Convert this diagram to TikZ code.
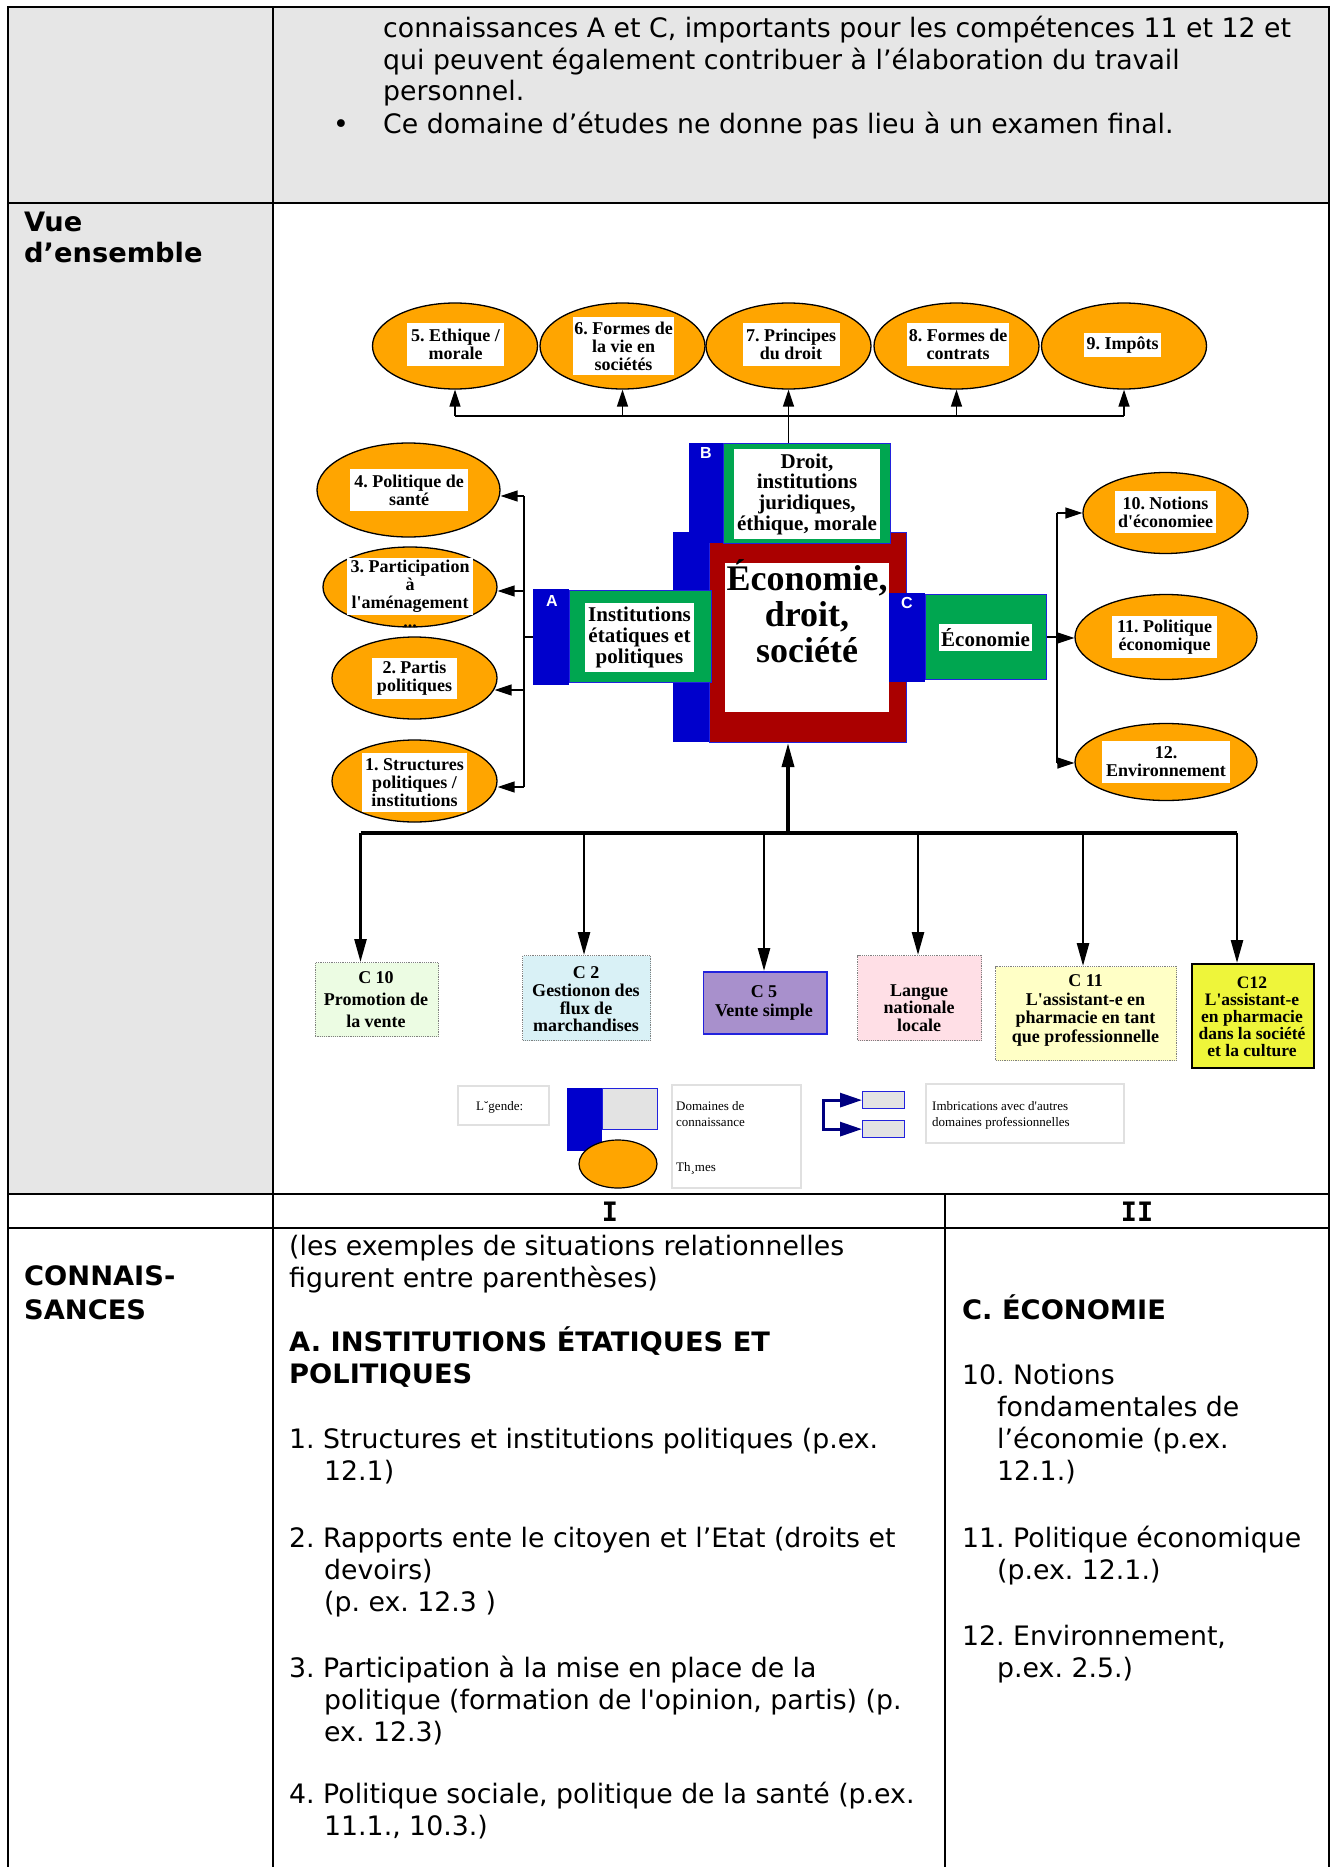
\documentclass[tikz,border=0pt]{standalone}
\usepackage{fontspec}
\setmainfont{DejaVu Sans}[BoldFeatures={FakeStretch=1.02}]
\newfontfamily\tms{Liberation Serif}
\newfontfamily\arl{Liberation Sans}
\newfontfamily\dmono{DejaVu Sans Mono}
\usetikzlibrary{shapes.geometric,arrows.meta,calc}
\definecolor{tgray}{HTML}{E6E6E6}
\definecolor{orng}{HTML}{FFA500}
\definecolor{dblue}{HTML}{0000CC}
\definecolor{oblue}{HTML}{2222DD}
\definecolor{dgreen}{HTML}{00A650}
\definecolor{dred}{HTML}{AA0000}
\definecolor{cten}{HTML}{ECFCE3}
\definecolor{ctwo}{HTML}{D9F1F6}
\definecolor{cfive}{HTML}{A890CC}
\definecolor{clang}{HTML}{FFDFE6}
\definecolor{celev}{HTML}{FFFFC6}
\definecolor{ctwel}{HTML}{EEF53A}
\definecolor{lgbord}{HTML}{E0E0E0}
\definecolor{lgfill}{HTML}{E3E3E3}
\definecolor{navy}{HTML}{000080}
\newcommand\apos{\textquotesingle}
\tikzset{
  tx/.style={anchor=base west, inner sep=0pt, font={\fontsize{26.75}{32}\selectfont}},
  txb/.style={anchor=base west, inner sep=0pt, font={\fontsize{26.75}{32}\selectfont\bfseries}},
  grid/.style={line width=2.2pt, black, line cap=rect},
  ell/.style={ellipse, draw=black, line width=1.3pt, fill=orng, inner sep=0pt},
  etx/.style={fill=white, inner sep=0pt, align=center, font={\tms\bfseries\fontsize{18}{18}\selectfont}},
  dtx/.style={fill=white, inner sep=0pt, align=center, font={\tms\bfseries\fontsize{21}{20.7}\selectfont}},
  blk/.style={rectangle, anchor=north west, inner sep=0pt},
  lbl/.style={inner sep=0pt, text=white, font={\arl\bfseries\fontsize{16}{16}\selectfont}},
  conn/.style={line width=1.5pt, black},
  arr/.style={conn, -{Triangle[length=17pt,width=11pt]}},
  bus/.style={line width=3.5pt, black},
  darr/.style={line width=2.6pt, black, -{Triangle[length=23pt,width=12pt]}},
  uarr/.style={line width=3.5pt, black, -{Triangle[length=24pt,width=12pt]}},
  cbox/.style={rectangle, anchor=north west, inner sep=0pt, draw=gray, densely dotted, line width=1.2pt},
  btx/.style={inner sep=0pt, align=center},
  lgbox/.style={rectangle, anchor=north west, inner sep=0pt, draw=lgbord, line width=1.5pt, fill=white},
  lgtx/.style={anchor=base west, inner sep=0pt, font={\tms\fontsize{13}{16}\selectfont}},
}
\begin{document}
\frenchspacing
\begin{tikzpicture}[x=1pt,y=-1pt]
\useasboundingbox (0,0) rectangle (1333,1867);
\fill[white] (0,0) rectangle (1333,1867);
% ---------------- table ----------------
\fill[tgray] (8,7) rectangle (1329,203);
\fill[tgray] (8,203) rectangle (273,1194);
\draw[grid] (8,7) -- (1329,7);
\draw[grid] (8,203) -- (1329,203);
\draw[grid] (8,1194) -- (1329,1194);
\draw[grid] (8,1228) -- (1329,1228);
\draw[grid] (8,7) -- (8,1867);
\draw[grid] (273,7) -- (273,1867);
\draw[grid] (1329,7) -- (1329,1867);
\draw[grid] (945,1194) -- (945,1867);

\node[tx] (p1) at (383,37.5) {connaissances A et C, importants pour les compétences 11 et 12 et};
\node[tx] (p2) at (383,69.5) {qui peuvent également contribuer à l’élaboration du travail};
\node[tx] (p3) at (383,100.5) {personnel.};
\node[tx] (p4b) at (333,133.5) {•};
\node[tx] (p4) at (383,133.5) {Ce domaine d’études ne donne pas lieu à un examen final.};

\node[txb] (vue1) at (24,232) {Vue};
\node[txb] (vue2) at (24,263) {d’ensemble};

\node[inner sep=0pt, font={\dmono\bfseries\fontsize{26.75}{32}\selectfont}] (hI) at (610,1212) {I};
\node[inner sep=0pt, font={\dmono\bfseries\fontsize{26.75}{32}\selectfont}] (hII) at (1137,1212) {II};

\node[txb] (k1) at (24,1285) {CONNAIS-};
\node[txb] (k2) at (24,1319) {SANCES};

\node[tx] (a1) at (289,1255) {(les exemples de situations relationnelles};
\node[tx] (a2) at (289,1287) {figurent entre parenthèses)};
\node[txb] (a3) at (289,1351) {A. INSTITUTIONS ÉTATIQUES ET};
\node[txb] (a4) at (289,1383) {POLITIQUES};
\node[tx] (a5) at (289,1448) {1. Structures et institutions politiques (p.ex.};
\node[tx] (a6) at (324,1480) {12.1)};
\node[tx] (a7) at (289,1547) {2. Rapports ente le citoyen et l’Etat (droits et};
\node[tx] (a8) at (324,1579) {devoirs)};
\node[tx] (a9) at (324,1611) {(p. ex. 12.3 )};
\node[tx] (a10) at (289,1677) {3. Participation à la mise en place de la};
\node[tx] (a11) at (324,1709) {politique (formation de l\apos opinion, partis) (p.};
\node[tx] (a12) at (324,1741) {ex. 12.3)};
\node[tx] (a13) at (289,1803) {4. Politique sociale, politique de la santé (p.ex.};
\node[tx] (a14) at (324,1835) {11.1., 10.3.)};

\node[txb] (b1) at (962,1319) {C. ÉCONOMIE};
\node[tx] (b2) at (962,1384) {10. Notions};
\node[tx] (b3) at (997,1416) {fondamentales de};
\node[tx] (b4) at (997,1448) {l’économie (p.ex.};
\node[tx] (b5) at (997,1480) {12.1.)};
\node[tx] (b6) at (962,1547) {11. Politique économique};
\node[tx] (b7) at (997,1579) {(p.ex. 12.1.)};
\node[tx] (b8) at (962,1645) {12. Environnement,};
\node[tx] (b9) at (997,1677) {p.ex. 2.5.)};

% ---------------- diagram: domain blocks ----------------
\node[blk, fill=dblue, minimum width=36pt, minimum height=210pt] (mainbar) at (673,532) {};
\node[blk, fill=dred, draw=oblue, line width=1pt, minimum width=197pt, minimum height=210pt] (mainbox) at (709,532) {};
\node[blk, fill=white, minimum width=164pt, minimum height=149pt] (mainwhite) at (725,563) {};
\node[anchor=north, inner sep=0pt, align=center, font={\tms\bfseries\fontsize{36}{36}\selectfont}] (maintxt) at (807,559) {Économie,\\droit,\\société};

\node[blk, fill=dblue, minimum width=34pt, minimum height=100pt] (Bbar) at (689,443) {};
\node[blk, fill=dgreen, draw=oblue, line width=1pt, minimum width=167pt, minimum height=100pt] (Bbox) at (723,443) {};
\node[dtx, minimum width=146pt, minimum height=90pt] (Btx) at (807,494) {Droit,\\institutions\\juridiques,\\éthique, morale};
\node[lbl] (Blab) at (706,453) {B};

\node[blk, fill=dblue, minimum width=36pt, minimum height=96pt] (Abar) at (533,589) {};
\node[blk, fill=dgreen, draw=oblue, line width=1pt, minimum width=142pt, minimum height=92pt] (Abox) at (569,590) {};
\node[dtx, minimum width=109pt, minimum height=69pt] (Atx) at (639.5,637.5) {Institutions\\étatiques et\\politiques};
\node[lbl] (Alab) at (552,601) {A};

\node[blk, fill=dblue, minimum width=36pt, minimum height=89pt] (Cbar) at (889,593) {};
\node[blk, fill=dgreen, draw=oblue, line width=1pt, minimum width=121pt, minimum height=85pt] (Cbox) at (925,594) {};
\node[dtx, minimum width=93pt, minimum height=27pt] (Ctx) at (985.5,637.5) {Économie};
\node[lbl] (Clab) at (907,603) {C};

% ---------------- top themes ----------------
\node[ell, minimum width=165pt, minimum height=86pt] (e5) at (455,346) {};
\node[ell, minimum width=165pt, minimum height=86pt] (e6) at (622.5,346) {};
\node[ell, minimum width=165pt, minimum height=86pt] (e7) at (788.5,346) {};
\node[ell, minimum width=165pt, minimum height=86pt] (e8) at (956.5,346) {};
\node[ell, minimum width=165pt, minimum height=86pt] (e9) at (1124,346) {};
\node[etx, minimum width=97pt, minimum height=43pt] (t5) at (455.5,344.5) {5. Ethique /\\morale};
\node[etx, minimum width=101pt, minimum height=58pt] (t6) at (623.5,346) {6. Formes de\\la vie en\\sociétés};
\node[etx, minimum width=97pt, minimum height=43pt] (t7) at (791,344.5) {7. Principes\\du droit};
\node[etx, minimum width=102pt, minimum height=43pt] (t8) at (958,344.5) {8. Formes de\\contrats};
\node[etx, minimum width=77pt, minimum height=24pt] (t9) at (1122.5,345) {9. Impôts};

\coordinate (tb) at (788.5,416);
\draw[conn] (Bbox.north -| tb) -- (tb);
\draw[conn] (e5.south |- tb) -- (e9.south |- tb);
\foreach \e in {e5,e6,e7,e8,e9} { \draw[arr] (\e.south |- tb) -- (\e.south); }

% ---------------- left themes ----------------
\node[ell, minimum width=183pt, minimum height=94pt] (e4) at (408.5,490) {};
\node[ell, minimum width=174pt, minimum height=80pt] (e3) at (410,587) {};
\node[ell, minimum width=165pt, minimum height=82pt] (e2) at (414.5,678) {};
\node[ell, minimum width=165pt, minimum height=82pt] (e1) at (414.5,781) {};
\node[etx, minimum width=118pt, minimum height=42pt] (t4) at (409,490) {4. Politique de\\santé};
\node[etx, minimum width=126pt, minimum height=57pt] (t3) at (410,586.5) {3. Participation\\à\\l\apos aménagement};
\node[anchor=base, inner sep=0pt, font={\tms\bfseries\fontsize{18}{18}\selectfont}] (t3b) at (410,627) {...};
\node[etx, minimum width=85pt, minimum height=41pt] (t2) at (414.5,678.5) {2. Partis\\politiques};
\node[etx, minimum width=105pt, minimum height=59pt] (t1) at (414.5,782.5) {1. Structures\\politiques /\\institutions};

\coordinate (l4) at (524,496);
\coordinate (l3) at (524,591);
\coordinate (l2) at (524,690);
\coordinate (l1) at (524,787);
\draw[conn] (l4) -- (l1);
\draw[conn] (Abar.west) -- (Abar.west -| l4);
\draw[arr] (l4) -- (l4 -| e4.east);
\draw[arr] (l3) -- (l3 -| e3.east);
\draw[arr] (l2) -- ($(l2 -| e2.east)+(-3,0)$);
\draw[arr] (l1) -- (l1 -| e1.east);

% ---------------- right themes ----------------
\node[ell, minimum width=165pt, minimum height=81pt] (e10) at (1165.5,513) {};
\node[ell, minimum width=182pt, minimum height=85pt] (e11) at (1166,637) {};
\node[ell, minimum width=182pt, minimum height=77pt] (e12) at (1166,762) {};
\node[etx, minimum width=101pt, minimum height=42pt] (t10) at (1165.5,512) {10. Notions\\d\apos économiee};
\node[etx, minimum width=105pt, minimum height=42pt] (t11) at (1164.5,637) {11. Politique\\économique};
\node[etx, minimum width=128pt, minimum height=42pt] (t12) at (1166,762) {12.\\Environnement};

\coordinate (r10) at (1057,513);
\coordinate (r11) at (1057,638);
\coordinate (r12) at (1057,763);
\draw[conn] (r10) -- (r12);
\draw[conn] (Cbox.east) -- (Cbox.east -| r10);
\draw[arr] (r10) -- (r10 -| e10.west);
\draw[arr] (r11) -- (r11 -| e11.west);
\draw[arr] (r12) -- (r12 -| e12.west);

% ---------------- bottom: other domains ----------------
\node[cbox, fill=cten, minimum width=123.5pt, minimum height=74pt] (c10box) at (314.5,962) {};
\node[cbox, fill=ctwo, minimum width=128pt, minimum height=85pt] (c2box) at (522,955) {};
\node[blk, fill=cfive, draw=oblue, line width=1.5pt, minimum width=123.4pt, minimum height=62pt] (c5box) at (702.6,971) {};
\node[cbox, fill=clang, minimum width=124pt, minimum height=85pt] (lnbox) at (857,955) {};
\node[cbox, fill=celev, minimum width=181pt, minimum height=94pt] (c11box) at (995,966) {};
\node[blk, fill=ctwel, draw=black, line width=1.5pt, minimum width=122pt, minimum height=104pt] (c12box) at (1191,963) {};

\node[btx, font={\tms\bfseries\fontsize{18}{22}\selectfont}] (c10) at (376,999.5) {C 10\\Promotion de\\la vente};
\node[btx, font={\tms\bfseries\fontsize{18}{17.7}\selectfont}] (c2) at (586,999.5) {C 2\\Gestionon des\\flux de\\marchandises};
\node[btx, font={\tms\bfseries\fontsize{18}{19.5}\selectfont}] (c5) at (764,1003) {C 5\\Vente simple};
\node[btx, font={\tms\bfseries\fontsize{18}{17.5}\selectfont}] (ln) at (919,1008) {Langue\\nationale\\locale};
\node[btx, font={\tms\bfseries\fontsize{18}{18.5}\selectfont}] (c11) at (1085.5,1010.5) {C 11\\L\apos assistant-e en\\pharmacie en tant\\que professionnelle};
\node[btx, font={\tms\bfseries\fontsize{17.5}{17}\selectfont}] (c12) at (1252,1017) {C12\\L\apos assistant-e\\en pharmacie\\dans la société\\et la culture};

\coordinate (mb) at (788,833);
\coordinate (d1) at (360.5,833);
\coordinate (d2) at (584,833);
\coordinate (d3) at (764,833);
\coordinate (d4) at (918,833);
\coordinate (d5) at (1083,833);
\coordinate (d6) at (1237,833);
\draw[uarr] (mb) -- (mainbox.south -| mb);
\draw[bus] (d1) -- (d6);
\draw[darr] (d1) -- (d1 |- c10box.north);
\draw[darr] (d2) -- (d2 |- c2box.north);
\draw[darr] (d3) -- (d3 |- c5box.north);
\draw[darr] (d4) -- (d4 |- lnbox.north);
\draw[darr] (d5) -- (d5 |- c11box.north);
\draw[darr] (d6) -- (d6 |- c12box.north);

% ---------------- legend ----------------
\node[lgbox, minimum width=91pt, minimum height=39pt] (lg1) at (457,1085) {};
\node[lgtx] (lg1t) at (476,1110) {L˘gende:};
\node[blk, fill=dblue, minimum width=35.5pt, minimum height=63pt] (lgbar) at (566.5,1088) {};
\node[blk, fill=lgfill, draw=oblue, line width=1.2pt, minimum width=55pt, minimum height=41pt] (lgdom) at (602,1088) {};
\node[ell, line width=1.2pt, minimum width=78pt, minimum height=48pt] (lgell) at (618,1164) {};
\node[lgbox, minimum width=129pt, minimum height=103pt] (lg2) at (671,1084) {};
\node[lgtx] (lg2a) at (676,1110) {Domaines de};
\node[lgtx] (lg2b) at (676,1126) {connaissance};
\node[lgtx] (lg2c) at (676,1171) {Th¸mes};
\node[blk, fill=lgfill, draw=oblue, line width=1.2pt, minimum width=41.6pt, minimum height=17pt] (lgs1) at (862,1091) {};
\node[blk, fill=lgfill, draw=oblue, line width=1.2pt, minimum width=41.6pt, minimum height=17pt] (lgs2) at (862,1120) {};
\draw[navy, line width=3pt, {Triangle[length=22pt,width=14pt]}-{Triangle[length=22pt,width=14pt]}] (lgs1.west) -- ++(-38.5,0) |- (lgs2.west);
\node[lgbox, minimum width=198pt, minimum height=59pt] (lg3) at (925,1083) {};
\node[lgtx] (lg3a) at (932,1110) {Imbrications avec d\apos autres};
\node[lgtx] (lg3b) at (932,1126) {domaines professionnelles};
\end{tikzpicture}
\end{document}
